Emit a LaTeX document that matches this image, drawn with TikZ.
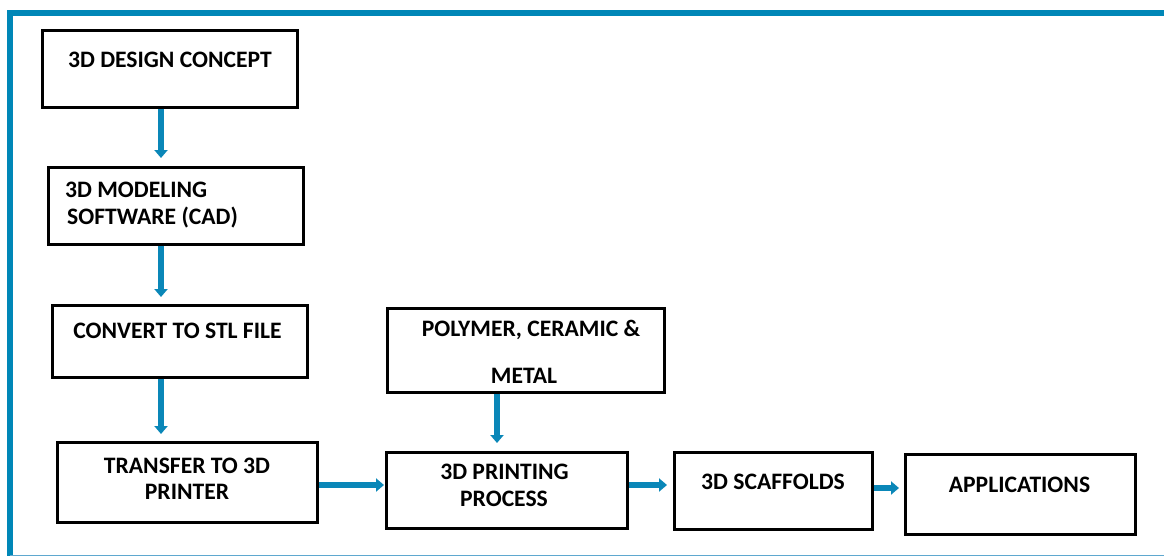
\documentclass[tikz,border=0pt]{standalone}
\usepackage{fontspec}
\setmainfont{Carlito}
\usetikzlibrary{arrows.meta}
\definecolor{frameblue}{HTML}{0087B7}
\definecolor{arrowblue}{HTML}{0A87B8}
\definecolor{thinblue}{HTML}{5FA8CF}
\begin{document}
\begin{tikzpicture}[x=1pt,y=-1pt,
  box/.style={draw=black,line width=3pt,fill=white,inner sep=0pt},
  txt/.style={font=\fontsize{23.6}{28}\selectfont\bfseries,inner sep=0pt,text=black},
  flow/.style={draw=arrowblue,line width=6pt,-{Triangle[width=13pt,length=8pt]}}]
\useasboundingbox (0,0) rectangle (1164,558);
\fill[white] (0,0) rectangle (1164,558);
% frame
\draw[frameblue,line width=6pt] (7,13) -- (1164,13);
\draw[frameblue,line width=6pt] (10,10) -- (10,556);
\draw[thinblue,line width=1.5pt] (10,555.5) -- (1164,555.5);
% boxes
\node[box,minimum width=255pt,minimum height=77pt] (b1) at (169.5,68.5) {};
\node[box,minimum width=255pt,minimum height=77pt] (b2) at (175.5,205.5) {};
\node[box,minimum width=255pt,minimum height=72pt] (b3) at (179.5,341) {};
\node[box,minimum width=260pt,minimum height=80pt] (b4) at (187,482) {};
\node[box,minimum width=277pt,minimum height=84pt] (b5) at (525.5,350) {};
\node[box,minimum width=241pt,minimum height=76pt] (b6) at (506.5,490) {};
\node[box,minimum width=198pt,minimum height=77pt] (b7) at (773,490.5) {};
\node[box,minimum width=230pt,minimum height=80pt] (b8) at (1020,494) {};
% texts
\node[txt] (t1) at (170,60) {3D DESIGN CONCEPT};
\node[txt,anchor=west] (t2a) at (65,190) {3D MODELING};
\node[txt,anchor=west] (t2b) at (67,218) {SOFTWARE (CAD)};
\node[txt] (t3) at (177.5,331) {CONVERT TO STL FILE};
\node[txt] (t4a) at (187,466) {TRANSFER TO 3D};
\node[txt] (t4b) at (187,492) {PRINTER};
\node[txt] (t5a) at (531,330) {POLYMER, CERAMIC \&};
\node[txt] (t5b) at (524,376) {METAL};
\node[txt] (t6a) at (504.5,472) {3D PRINTING};
\node[txt] (t6b) at (504,499) {PROCESS};
\node[txt] (t7) at (773,482) {3D SCAFFOLDS};
\node[txt] (t8) at (1019.5,485) {APPLICATIONS};
% arrow tips
\coordinate (p12) at (161,158);
\coordinate (p23) at (161,297);
\coordinate (p34) at (161,434);
\coordinate (p46) at (384,485);
\coordinate (p56) at (497,443);
\coordinate (p67) at (667,485);
\coordinate (p78) at (899,488);
% arrows
\draw[flow] (b1.south -| p12) -- (p12);
\draw[flow] (b2.south -| p23) -- (p23);
\draw[flow] (b3.south -| p34) -- (p34);
\draw[flow] (b4.east |- p46) -- (p46);
\draw[flow] (b5.south -| p56) -- (p56);
\draw[flow] (b6.east |- p67) -- (p67);
\draw[flow] (b7.east |- p78) -- (p78);
\end{tikzpicture}
\end{document}
